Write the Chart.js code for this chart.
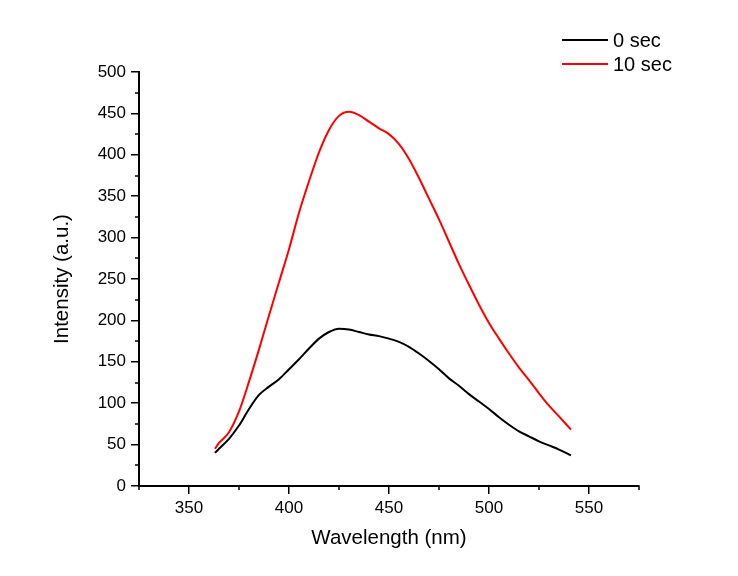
<!DOCTYPE html>
<html>
<head>
<meta charset="utf-8">
<script src="https://cdn.jsdelivr.net/npm/chart.js@4"></script>
<style>
  html, body { margin: 0; padding: 0; background: #fff; }
  #wrap { width: 738px; height: 576px; }
</style>
</head>
<body>
<div id="wrap"><canvas id="c" width="738" height="576"></canvas></div>
<script>
// Data
const wavelength = [363, 365, 370, 375, 380, 385, 390, 395, 400, 405, 410, 415, 420, 425, 430, 435, 440, 445, 450, 455, 460, 465, 470, 475, 480, 485, 490, 495, 500, 505, 510, 515, 520, 525, 530, 535, 541];
const intensity0s = [40, 45, 57, 73, 93, 110, 120, 129, 141, 153, 166, 178, 186, 190, 189, 186, 183, 181, 178, 174, 168, 160, 151, 141, 130, 121, 111, 102, 93, 83, 74, 66, 60, 54, 49, 44, 37];
const intensity10s = [45, 52, 65, 90, 126, 165, 206, 246, 286, 330, 368, 403, 430, 447, 452, 448, 440, 432, 425, 413, 395, 372, 347, 322, 295, 268, 243, 219, 197, 178, 160, 143, 128, 112, 97, 84, 68];
const seriesLabels = ["0 sec", "10 sec"];
const seriesColors = ["#000000", "#ff0000"];
const xMajorTicks = [350, 400, 450, 500, 550];
const xMinorTicks = [325, 375, 425, 475, 525, 575];
const yMajorTicks = [0, 50, 100, 150, 200, 250, 300, 350, 400, 450, 500];
const yMinorTicks = [25, 75, 125, 175, 225, 275, 325, 375, 425, 475];

const FONT = "'Liberation Sans', Arial, sans-serif";

const toPoints = (ys) => wavelength.map((x, i) => ({ x: x, y: ys[i] }));

const minorTicks = {
  id: 'minorTicks',
  afterDraw(chart) {
    const ctx = chart.ctx;
    const xs = chart.scales.x, ys = chart.scales.y;
    ctx.save();
    ctx.strokeStyle = '#000';
    ctx.lineWidth = 1.5;
    ctx.beginPath();
    xMinorTicks.forEach(v => {
      const px = Math.round(xs.getPixelForValue(v));
      ctx.moveTo(px, ys.bottom);
      ctx.lineTo(px, ys.bottom + 4);
    });
    yMinorTicks.forEach(v => {
      const py = Math.round(ys.getPixelForValue(v));
      ctx.moveTo(xs.left, py);
      ctx.lineTo(xs.left - 4, py);
    });
    ctx.stroke();
    ctx.restore();
  }
};

const lineLegend = {
  id: 'lineLegend',
  afterDraw(chart) {
    const ctx = chart.ctx;
    ctx.save();
    ctx.font = "20px " + FONT;
    ctx.textBaseline = 'middle';
    ctx.textAlign = 'left';
    chart.data.datasets.forEach((ds, i) => {
      const y = 40 + i * 24;
      ctx.strokeStyle = ds.borderColor;
      ctx.lineWidth = 2;
      ctx.beginPath();
      ctx.moveTo(562, y);
      ctx.lineTo(608, y);
      ctx.stroke();
      ctx.fillStyle = '#000';
      ctx.fillText(ds.label, 613, y + 1);
    });
    ctx.restore();
  }
};

new Chart(document.getElementById('c'), {
  type: 'line',
  data: {
    datasets: [
      { label: seriesLabels[0], data: toPoints(intensity0s), borderColor: seriesColors[0], borderWidth: 2, pointRadius: 0, tension: 0.4, cubicInterpolationMode: 'monotone', fill: false },
      { label: seriesLabels[1], data: toPoints(intensity10s), borderColor: seriesColors[1], borderWidth: 2, pointRadius: 0, tension: 0.4, cubicInterpolationMode: 'monotone', fill: false }
    ]
  },
  options: {
    responsive: false,
    animation: false,
    events: [],
    layout: { padding: { left: 0, right: 99, top: 72, bottom: 0 } },
    plugins: { legend: { display: false }, tooltip: { enabled: false } },
    scales: {
      x: {
        type: 'linear',
        min: 325, max: 575,
        afterBuildTicks: (s) => { s.ticks = xMajorTicks.map(v => ({ value: v })); },
        afterFit: (s) => { s.height = 90; },
        border: { display: true, color: '#000', width: 2 },
        grid: { display: true, drawOnChartArea: false, drawTicks: true, tickLength: 8, color: '#000', lineWidth: 1.5 },
        ticks: { color: '#000', font: { family: FONT, size: 17 }, padding: 4, maxRotation: 0, autoSkip: false },
        title: { display: true, text: 'Wavelength (nm)', color: '#000', font: { family: FONT, size: 20.5 }, padding: { top: 0, bottom: 25 } }
      },
      y: {
        type: 'linear',
        min: 0, max: 500,
        afterBuildTicks: (s) => { s.ticks = yMajorTicks.map(v => ({ value: v })); },
        afterFit: (s) => { s.width = 139; },
        border: { display: true, color: '#000', width: 2 },
        grid: { display: true, drawOnChartArea: false, drawTicks: true, tickLength: 8, color: '#000', lineWidth: 1.5 },
        ticks: { color: '#000', font: { family: FONT, size: 17 }, padding: 5, autoSkip: false },
        title: { display: true, text: 'Intensity (a.u.)', color: '#000', font: { family: FONT, size: 20.5 }, padding: { top: 50, bottom: 0 } }
      }
    }
  },
  plugins: [minorTicks, lineLegend]
});
</script>
</body>
</html>
